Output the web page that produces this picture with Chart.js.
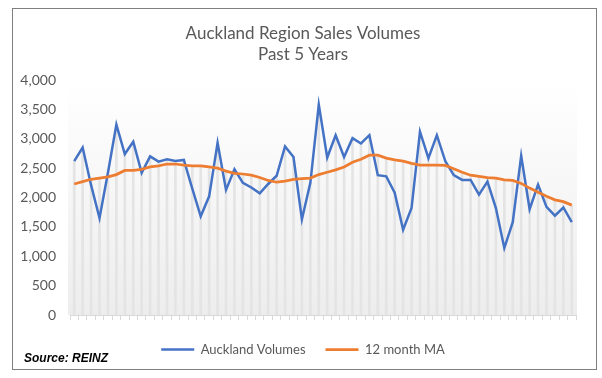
<!DOCTYPE html>
<html>
<head>
<meta charset="utf-8">
<script src="https://cdn.jsdelivr.net/npm/chart.js@4"></script>
<style>
    html, body { margin: 0; padding: 0; background: #fff; }
    #wrap { position: relative; width: 602px; height: 378px; }
    #frame { position: absolute; left: 12px; top: 8px; width: 583px; height: 360px; border: 1px solid #7f7f7f; pointer-events: none; }
    #source { position: absolute; left: 24px; top: 351px; font: italic bold 12px "Liberation Sans", Arial, sans-serif; color: #000; }
</style>
</head>
<body>
<div id="wrap">
    <canvas id="salesChart" width="602" height="378"></canvas>
    <div id="frame"></div>
    <div id="source">Source: REINZ</div>
</div>
<script>
// Monthly sales volumes, 5 years
const monthNames = ['Jan', 'Feb', 'Mar', 'Apr', 'May', 'Jun', 'Jul', 'Aug', 'Sep', 'Oct', 'Nov', 'Dec'];
const years = ['14', '15', '16', '17', '18'];
const months = [];
years.forEach(y => monthNames.forEach(m => months.push(m + '-' + y)));

const aucklandVolumes = [
    2620, 2850, 2210, 1650, 2420, 3240, 2740, 2950, 2420, 2700,
    2610, 2650, 2620, 2640, 2150, 1680, 2020, 2930, 2130, 2480,
    2250, 2170, 2070, 2230, 2370, 2870, 2690, 1630, 2250, 3580,
    2680, 3060, 2690, 3010, 2920, 3060, 2380, 2360, 2080, 1450,
    1820, 3120, 2670, 3060, 2620, 2380, 2300, 2300, 2050, 2270,
    1820, 1140, 1580, 2710, 1800, 2220, 1840, 1690, 1830, 1580
];

const movingAverage = [
    2230, 2270, 2310, 2330, 2350, 2390, 2460, 2460, 2480, 2520,
    2540, 2570, 2570, 2550, 2540, 2540, 2520, 2500, 2450, 2410,
    2400, 2380, 2340, 2290, 2260, 2280, 2310, 2320, 2330, 2390,
    2430, 2470, 2520, 2600, 2650, 2720, 2720, 2670, 2640, 2620,
    2580, 2550, 2550, 2550, 2545, 2490, 2430, 2380, 2360, 2340,
    2330, 2300, 2290, 2240, 2160, 2090, 2020, 1960, 1930, 1870
];

const yTicks = [0, 500, 1000, 1500, 2000, 2500, 3000, 3500, 4000];

// Drop lines reach the higher of the two series
const dropLines = aucklandVolumes.map((v, i) => Math.max(v, movingAverage[i]));

const textGrey = '#595959';

// Gradient fill of the plot area
const plotBackground = {
    id: 'plotBackground',
    beforeDatasetsDraw(chart) {
        const { ctx, chartArea } = chart;
        const g = ctx.createLinearGradient(0, chartArea.top, 0, chartArea.bottom);
        g.addColorStop(0, '#ffffff');
        g.addColorStop(1, '#ededed');
        ctx.save();
        ctx.fillStyle = g;
        ctx.fillRect(chartArea.left - 2, chartArea.top, chartArea.right - chartArea.left + 3, chartArea.bottom - chartArea.top);
        ctx.restore();
    }
};

const ctx = document.getElementById('salesChart').getContext('2d');
const salesChart = new Chart(ctx, {
    type: 'line',
    data: {
        labels: months,
        datasets: [{
            label: 'Auckland Volumes',
            data: aucklandVolumes,
            borderColor: '#4472C4',
            backgroundColor: '#4472C4',
            borderWidth: 2.5,
            pointRadius: 0,
            tension: 0,
            order: 2
        }, {
            label: '12 month MA',
            data: movingAverage,
            borderColor: '#ED7D31',
            backgroundColor: '#ED7D31',
            borderWidth: 2.75,
            pointRadius: 0,
            tension: 0,
            order: 1
        }, {
            type: 'bar',
            label: 'drop',
            data: dropLines,
            backgroundColor: '#e4e4e4',
            barThickness: 2,
            order: 3
        }]
    },
    options: {
        responsive: false,
        animation: false,
        layout: {
            padding: { left: 12, right: 8, top: 23, bottom: 12 }
        },
        plugins: {
            title: {
                display: true,
                text: ['Auckland Region Sales Volumes', 'Past 5 Years'],
                color: textGrey,
                font: { family: 'Lato', size: 17, weight: 'normal', lineHeight: 1.25 },
                padding: { top: 0, bottom: 14.5 }
            },
            legend: {
                position: 'bottom',
                labels: {
                    filter: item => item.text !== 'drop',
                    sort: (a, b) => a.datasetIndex - b.datasetIndex,
                    usePointStyle: true,
                    pointStyle: 'line',
                    pointStyleWidth: 33,
                    color: textGrey,
                    font: { family: 'Lato', size: 13 },
                    padding: 20
                }
            },
            tooltip: { enabled: false }
        },
        scales: {
            x: {
                offset: true,
                ticks: { display: false },
                afterFit: scale => { scale.height += 3; },
                grid: {
                    offset: true,
                    drawOnChartArea: false,
                    drawTicks: true,
                    tickLength: 5,
                    color: '#d9d9d9'
                },
                border: { color: '#d9d9d9' }
            },
            y: {
                min: 0,
                max: 4000,
                afterBuildTicks: scale => { scale.ticks = yTicks.map(v => ({ value: v })); },
                afterFit: scale => { scale.width = 58; },
                ticks: {
                    color: textGrey,
                    font: { family: 'Lato', size: 14 },
                    padding: 14,
                    callback: v => v.toLocaleString('en-US')
                },
                grid: { display: false, drawTicks: false },
                border: { display: false }
            },
            // empty right-hand axis only reserves space so the title and legend stay centred
            yRight: {
                position: 'right',
                min: 0,
                max: 4000,
                afterFit: scale => { scale.width = 18; },
                ticks: { display: false },
                grid: { display: false, drawTicks: false },
                border: { display: false }
            }
        }
    },
    plugins: [plotBackground]
});
</script>
</body>
</html>
